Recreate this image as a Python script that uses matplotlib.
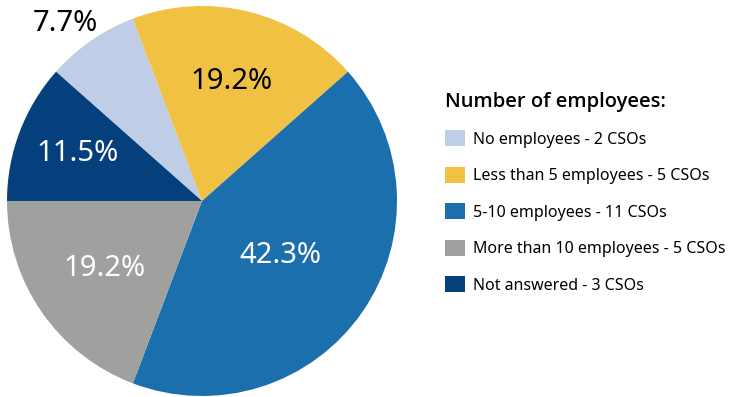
import numpy as np
import matplotlib
matplotlib.use("Agg")
import matplotlib.pyplot as plt

plt.rcParams['font.family'] = ['Noto Sans', 'DejaVu Sans']

# Survey breakdown: CSOs by staff size
categories = [
    "No employees - 2 CSOs",
    "Less than 5 employees - 5 CSOs",
    "5-10 employees - 11 CSOs",
    "More than 10 employees - 5 CSOs",
    "Not answered - 3 CSOs",
]
counts = [2, 5, 11, 5, 3]
colors = ["#BFCDE6", "#F0C142", "#1B6FAD", "#A0A09F", "#053F7C"]
label_colors = ["black", "black", "white", "white", "white"]
# radial position of each percentage label (fraction of radius)
label_dist = [1.15, 0.63, 0.49, 0.61, 0.68]
label_turn = [3.0, 0, 0, 0, 0]  # degrees, nudges the outside label

W, H = 732, 397
fig = plt.figure(figsize=(W / 100, H / 100), dpi=100)

cx, cy, r = 202, 196, 195
ax = fig.add_axes([(cx - r) / W, (cy - r) / H, 2 * r / W, 2 * r / H])

wedges, _, autotexts = ax.pie(
    counts,
    colors=colors,
    startangle=180 - 360 * counts[-1] / sum(counts),
    counterclock=False,
    autopct="%.1f%%",
    wedgeprops=dict(linewidth=0),
)
ax.set_xlim(-1, 1)
ax.set_ylim(-1, 1)
ax.set_aspect("equal")

for w, t, c, d, turn in zip(wedges, autotexts, label_colors, label_dist, label_turn):
    mid = np.deg2rad((w.theta1 + w.theta2) / 2 + turn)
    t.set_position((d * np.cos(mid), d * np.sin(mid)))
    t.set_color(c)
    t.set_fontsize(21)
    t.set_ha("center")
    t.set_va("center")

leg = fig.legend(
    wedges,
    categories,
    loc="upper left",
    bbox_to_anchor=(431 / W, 1 - 78 / H),
    frameon=False,
    title="Number of employees:",
    title_fontproperties=dict(family=["Open Sans", "Noto Sans"], weight="semibold", size=14.5),
    fontsize=11.5,
    handlelength=1.2,
    handleheight=1.15,
    handletextpad=0.5,
    labelspacing=1.2,
    alignment="left",
)
leg._legend_box.sep = 13

fig.savefig("out.png", dpi=100)
